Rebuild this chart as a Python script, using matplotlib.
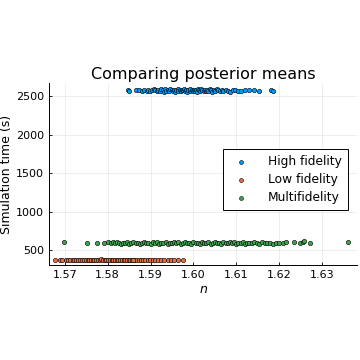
import matplotlib
matplotlib.use("Agg")
import matplotlib.pyplot as plt

hf_n = [1.5847, 1.5850, 1.5866, 1.5872, 1.5880, 1.5885, 1.5891, 1.5895, 1.5899, 1.5903,
        1.5907, 1.5911, 1.5914, 1.5918, 1.5921, 1.5925, 1.5928, 1.5931, 1.5934, 1.5937,
        1.5940, 1.5943, 1.5946, 1.5949, 1.5952, 1.5955, 1.5957, 1.5960, 1.5963, 1.5965,
        1.5968, 1.5971, 1.5973, 1.5976, 1.5978, 1.5981, 1.5983, 1.5986, 1.5988, 1.5991,
        1.5993, 1.5996, 1.5998, 1.6001, 1.6003, 1.6006, 1.6008, 1.6011, 1.6013, 1.6016,
        1.6018, 1.6021, 1.6024, 1.6026, 1.6029, 1.6032, 1.6035, 1.6038, 1.6041, 1.6044,
        1.6047, 1.6050, 1.6054, 1.6058, 1.6062, 1.6066, 1.6070, 1.6075, 1.6080, 1.6086,
        1.6092, 1.6098, 1.6105, 1.6112, 1.6120, 1.6130, 1.6142, 1.6153, 1.6180, 1.6186]
hf_t = [2585, 2565, 2575, 2580, 2570, 2578, 2572, 2585, 2568, 2580,
        2590, 2575, 2562, 2583, 2570, 2595, 2578, 2560, 2587, 2573,
        2581, 2566, 2592, 2577, 2569, 2584, 2558, 2576, 2589, 2571,
        2580, 2563, 2586, 2574, 2598, 2567, 2579, 2555, 2582, 2572,
        2591, 2576, 2564, 2585, 2570, 2580, 2560, 2588, 2575, 2568,
        2593, 2577, 2561, 2584, 2572, 2579, 2566, 2587, 2574, 2558,
        2582, 2570, 2590, 2576, 2563, 2581, 2569, 2586, 2573, 2560,
        2578, 2584, 2571, 2566, 2580, 2575, 2582, 2570, 2578, 2572]

lf_n = [1.5677, 1.5689, 1.5693, 1.5702, 1.5708, 1.5713, 1.5718, 1.5722, 1.5727, 1.5731,
        1.5736, 1.5740, 1.5745, 1.5749, 1.5753, 1.5757, 1.5761, 1.5765, 1.5769, 1.5773,
        1.5777, 1.5781, 1.5785, 1.5789, 1.5793, 1.5797, 1.5801, 1.5805, 1.5809, 1.5813,
        1.5817, 1.5821, 1.5825, 1.5829, 1.5833, 1.5837, 1.5841, 1.5845, 1.5849, 1.5853,
        1.5857, 1.5862, 1.5867, 1.5872, 1.5877, 1.5882, 1.5887, 1.5893, 1.5899, 1.5905,
        1.5911, 1.5918, 1.5925, 1.5932, 1.5940, 1.5948, 1.5955, 1.5965, 1.5976, 1.5860]
lf_t = [372, 370, 373, 371, 374, 369, 372, 375, 370, 373,
        371, 374, 368, 372, 375, 370, 373, 371, 369, 374,
        372, 370, 376, 371, 373, 369, 372, 374, 370, 373,
        371, 375, 369, 372, 374, 370, 373, 371, 368, 372,
        375, 370, 373, 371, 374, 369, 372, 370, 373, 371,
        374, 372, 369, 373, 371, 375, 370, 372, 373, 371]

mf_n = [1.5698, 1.5752, 1.5775, 1.5792, 1.5800, 1.5808, 1.5813, 1.5818, 1.5822, 1.5827,
        1.5831, 1.5836, 1.5840, 1.5845, 1.5850, 1.5855, 1.5860, 1.5865, 1.5870, 1.5875,
        1.5880, 1.5885, 1.5890, 1.5895, 1.5900, 1.5905, 1.5910, 1.5915, 1.5920, 1.5925,
        1.5930, 1.5935, 1.5940, 1.5945, 1.5950, 1.5955, 1.5960, 1.5965, 1.5970, 1.5975,
        1.5980, 1.5985, 1.5990, 1.5995, 1.6000, 1.6005, 1.6010, 1.6015, 1.6020, 1.6025,
        1.6030, 1.6035, 1.6040, 1.6045, 1.6050, 1.6055, 1.6060, 1.6065, 1.6070, 1.6075,
        1.6080, 1.6085, 1.6090, 1.6095, 1.6100, 1.6105, 1.6110, 1.6115, 1.6120, 1.6125,
        1.6130, 1.6136, 1.6142, 1.6148, 1.6154, 1.6160, 1.6166, 1.6172, 1.6178, 1.6185,
        1.6192, 1.6200, 1.6208, 1.6215, 1.6235, 1.6248, 1.6256, 1.6259, 1.6272, 1.6361]
mf_t = [604, 590, 595, 592, 600, 588, 598, 585, 602, 590,
        580, 596, 586, 600, 583, 593, 605, 588, 597, 582,
        591, 603, 586, 595, 580, 599, 590, 607, 584, 594,
        588, 601, 583, 596, 592, 610, 585, 598, 581, 593,
        600, 587, 595, 582, 604, 590, 597, 584, 608, 592,
        586, 599, 581, 594, 603, 589, 596, 583, 601, 591,
        585, 598, 590, 606, 582, 595, 588, 600, 584, 593,
        597, 586, 603, 590, 581, 599, 592, 587, 596, 584,
        594, 588, 590, 600, 598, 596, 603, 612, 592, 606]

series_labels = ["High fidelity", "Low fidelity", "Multifidelity"]
x_ticks = [1.57, 1.58, 1.59, 1.60, 1.61, 1.62, 1.63]
y_ticks = [500, 1000, 1500, 2000, 2500]

colors = ["#009AFA", "#E36F47", "#3EA44E"]

fig = plt.figure(figsize=(3.6, 3.6), dpi=100)
ax = fig.add_axes([0.136, 0.264, 0.856, 0.505])

for (xs, ys), lab, c in zip([(hf_n, hf_t), (lf_n, lf_t), (mf_n, mf_t)], series_labels, colors):
    ax.scatter(xs, ys, s=10, c=c, edgecolors="black", linewidths=0.4, label=lab, zorder=3)

ax.set_xlim(1.5663, 1.6382)
ax.set_ylim(305, 2669)
ax.set_xticks(x_ticks)
ax.set_xticklabels([f"{v:.2f}" for v in x_ticks])
ax.set_yticks(y_ticks)
ax.tick_params(direction="in", length=2.5, labelsize=8, width=0.6)
ax.grid(True, color="black", alpha=0.08, linewidth=0.6)
for s in ["top", "right"]:
    ax.spines[s].set_visible(False)
for s in ["left", "bottom"]:
    ax.spines[s].set_linewidth(0.7)

ax.set_title("Comparing posterior means", fontsize=11.5, pad=3)
ax.set_xlabel("$n$", fontsize=9, labelpad=2)
ax.set_ylabel("Simulation time (s)", fontsize=9, labelpad=2)

leg = ax.legend(loc="upper right", bbox_to_anchor=(0.99, 0.672), fontsize=8.8,
                fancybox=False, edgecolor="black", framealpha=1, borderpad=0.5,
                handletextpad=1.2, labelspacing=0.4, scatterpoints=1, markerscale=0.9)
leg.get_frame().set_linewidth(0.7)

fig.savefig("out.png", dpi=100)
